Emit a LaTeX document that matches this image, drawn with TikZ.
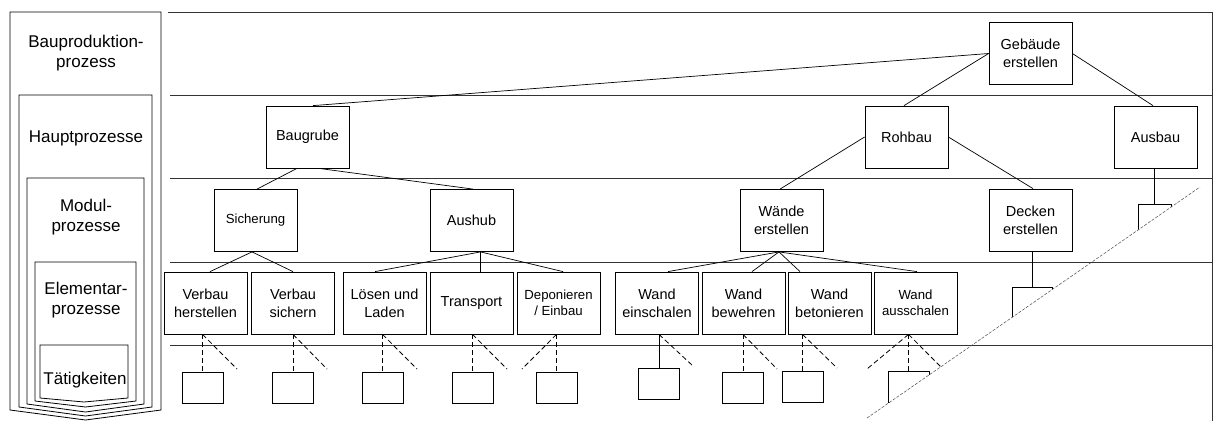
\documentclass[tikz,border=0pt]{standalone}
\usepackage{fontspec}
\setmainfont{Liberation Sans}
\begin{document}
\begin{tikzpicture}[x=1pt,y=-1pt,
  proc/.style={draw, line width=0.8pt, minimum width=83pt, minimum height=62pt,
    inner sep=0pt, align=center, font=\fontsize{14.5}{18}\selectfont},
  procsmall/.style={proc, font=\fontsize{13.2}{16.5}\selectfont},
  act/.style={draw, line width=0.8pt, minimum width=41pt, minimum height=31pt, inner sep=0pt},
  link/.style={line width=0.7pt},
  dlink/.style={line width=0.8pt, dash pattern=on 5pt off 3pt},
  level/.style={line width=0.8pt, black!80},
  cut/.style={line width=0.5pt, black!70, dash pattern=on 3pt off 1.5pt},
  shell/.style={line width=0.8pt},
  lab/.style={align=center, inner sep=0pt, font=\fontsize{17}{20.5}\selectfont}
]
\useasboundingbox (0,0) rectangle (1216,421);

% ---- nested level shells on the left
\draw[shell] (10,410) -- (10,12) -- (161,12) -- (161,410) -- (85.5,420) -- cycle;
\draw[shell] (19,407) -- (19,95) -- (152,95) -- (152,407) -- (85.5,416) -- cycle;
\draw[shell] (27,404) -- (27,178) -- (144,178) -- (144,404) -- (85.5,412) -- cycle;
\draw[shell] (35,401) -- (35,262) -- (136,262) -- (136,401) -- (85.5,407) -- cycle;
\draw[shell] (40,398) -- (40,345) -- (128,345) -- (128,398) -- (84,402) -- cycle;

\node[lab] (l1) at (86,53) {Bauproduktion-\\prozess};
\node[lab] (l2) at (86,138) {Hauptprozesse};
\node[lab] (l3) at (86,217) {Modul-\\prozesse};
\node[lab] (l4) at (86,300) {Elementar-\\prozesse};
\node[lab] (l5) at (85,380) {Tätigkeiten};

% ---- level frame on the right
\draw[level] (168,12) -- (1212,12);
\draw[level] (1212,12) -- (1212,421);
\foreach \yy in {95,178,262,345}
  \draw[level] (170,\yy) -- (1212,\yy);

% ---- process tree
\node[proc] (geb)  at (1030.5,53.5) {Gebäude\\erstellen};
\node[proc] (baug) at (307.5,137)   {Baugrube};
\node[proc] (roh)  at (906.5,137)   {Rohbau};
\node[proc] (aus)  at (1155.5,137)  {Ausbau};

\node[procsmall] (sich) at (255.5,220.5) {Sicherung};
\node[proc] (aush)   at (471.5,220.5) {Aushub};
\node[proc] (waende) at (781.5,220.5) {Wände\\erstellen};
\node[proc] (decken) at (1030.5,220)  {Decken\\erstellen};

\node[proc] (vh)  at (205.5,303) {Verbau\\herstellen};
\node[proc] (vs)  at (293,303)   {Verbau\\sichern};
\node[proc] (ll)  at (384.5,303) {Lösen und\\Laden};
\node[proc] (tr)  at (471.5,303) {Transport};
\node[procsmall] (dep) at (558.5,303) {Deponieren\\/ Einbau};
\node[proc] (we)  at (657,303)   {Wand\\einschalen};
\node[proc] (wbw) at (743.5,303) {Wand\\bewehren};
\node[proc] (wbt) at (829.5,303) {Wand\\betonieren};
\node[procsmall] (wa) at (915.5,303) {Wand\\ausschalen};

\draw[link] (geb.west) -- ([xshift=5.5pt]baug.north);
\draw[link] (geb.west) -- ([xshift=-2.5pt]roh.north);
\draw[link] (geb.east) -- ([xshift=-2.5pt]aus.north);
\draw[link] ([xshift=-10.5pt]baug.south) -- ([xshift=1.5pt]sich.north);
\draw[link] ([xshift=11.5pt]baug.south) -- ([xshift=1.5pt]aush.north);
\draw[link] (roh.west) -- ([xshift=-1.5pt]waende.north);
\draw[link] (roh.east) -- ([xshift=2.5pt]decken.north);
\draw[link] ([xshift=-3.5pt]sich.south) -- ([xshift=4.5pt]vh.north);
\draw[link] ([xshift=-3.5pt]sich.south) -- (vs.north);
\draw[link] ([xshift=9pt]aush.south) -- ([xshift=-9.5pt]ll.north);
\draw[link] ([xshift=9pt]aush.south) -- ([xshift=9pt]tr.north);
\draw[link] ([xshift=9pt]aush.south) -- ([xshift=4.5pt]dep.north);
\draw[link] ([xshift=-2.5pt]waende.south) -- ([xshift=11pt]we.north);
\draw[link] ([xshift=-2.5pt]waende.south) -- ([xshift=8.5pt]wbw.north);
\draw[link] ([xshift=-2.5pt]waende.south) -- ([xshift=-29.5pt]wbt.north);
\draw[link] ([xshift=-2.5pt]waende.south) -- ([xshift=1.5pt]wa.north);

% ---- activities
\node[act] (t1) at (202.5,388)   {};
\node[act] (t2) at (293,388)     {};
\node[act] (t3) at (382.5,388)   {};
\node[act] (t4) at (472.5,388)   {};
\node[act] (t5) at (556.5,388)   {};
\node[act] (t6) at (659,383.5)   {};
\node[act] (t7) at (743,387.5)   {};
\node[act] (t8) at (802.5,386.5) {};

\coordinate (d1) at (237,369);
\coordinate (d2) at (327,369);
\coordinate (d3) at (417,369);
\coordinate (d4) at (507,369);
\coordinate (d5) at (522,369);
\coordinate (d6) at (693,366);
\coordinate (d7) at (777,369);
\coordinate (d8) at (837,368);
\coordinate (d9a) at (867,369);
\coordinate (d9b) at (941,367);

\draw[dlink] (t1.north |- vh.south) -- (t1.north);
\draw[dlink] (t1.north |- vh.south) -- (d1);
\draw[dlink] (t2.north |- vs.south) -- (t2.north);
\draw[dlink] (t2.north |- vs.south) -- (d2);
\draw[dlink] (t3.north |- ll.south) -- (t3.north);
\draw[dlink] (t3.north |- ll.south) -- (d3);
\draw[dlink] (t4.north |- tr.south) -- (t4.north);
\draw[dlink] (t4.north |- tr.south) -- (d4);
\draw[dlink] (t5.north |- dep.south) -- (t5.north);
\draw[dlink] (t5.north |- dep.south) -- (d5);
\draw[link]  (t6.north |- we.south) -- (t6.north);
\draw[dlink] (t6.north |- we.south) -- (d6);
\draw[dlink] (t7.north |- wbw.south) -- (t7.north);
\draw[dlink] (t7.north |- wbw.south) -- (d7);
\draw[dlink] (t8.north |- wbt.south) -- (t8.north);
\draw[dlink] (t8.north |- wbt.south) -- (d8);

% ---- hierarchy continues below the cut line
\coordinate (cutA) at (867,418);
\coordinate (cutB) at (1200,187);
\begin{scope}
  \clip (800,464.5) -- (1260,145.4) -- (1260,0) -- (800,0) -- cycle;
  \node[act] (t9) at (908.5,386.5) {};
  \node[act, minimum width=33pt, minimum height=30pt] (ab) at (1154.5,219) {};
  \node[act, minimum width=40pt, minimum height=30pt] (dk) at (1032,302) {};
\end{scope}
\draw[dlink] (t9.north |- wa.south) -- (t9.north);
\draw[dlink] (t9.north |- wa.south) -- (d9a);
\draw[dlink] (t9.north |- wa.south) -- (d9b);
\draw[link] (ab.north |- aus.south) -- (ab.north);
\draw[link] (dk.north |- decken.south) -- (dk.north);
\draw[cut] (cutA) -- (cutB);
\end{tikzpicture}
\end{document}
